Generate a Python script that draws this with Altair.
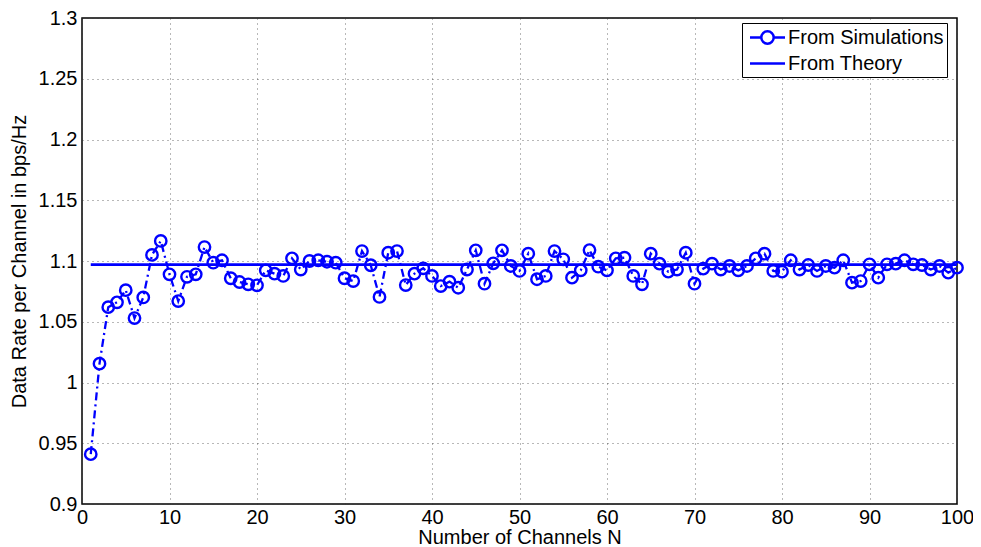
import altair as alt
import pandas as pd

channels = list(range(1, 101))
sim_values = [
    0.941, 1.0155, 1.062, 1.066, 1.076, 1.053, 1.070, 1.105, 1.1165, 1.089,
    1.067, 1.087, 1.089, 1.1115, 1.0986, 1.1006, 1.0858, 1.0827, 1.0808, 1.080,
    1.0923, 1.0896, 1.0877, 1.1022, 1.093, 1.100, 1.1006, 1.0994, 1.0986, 1.0858,
    1.0835, 1.1082, 1.0965, 1.0704, 1.1068, 1.1082, 1.0802, 1.0896, 1.094, 1.0877,
    1.0794, 1.083, 1.078, 1.093, 1.1088, 1.0813, 1.0981, 1.1088, 1.0959, 1.0918,
    1.106, 1.085, 1.0877, 1.1082, 1.1014, 1.0863, 1.0923, 1.109, 1.0953, 1.0923,
    1.1022, 1.1027, 1.0877, 1.0808, 1.106, 1.0978, 1.0912, 1.093, 1.1068, 1.0813,
    1.0937, 1.0978, 1.093, 1.0959, 1.0923, 1.0959, 1.1022, 1.106, 1.0918, 1.0912,
    1.1006, 1.093, 1.0967, 1.0918, 1.0959, 1.0945, 1.1006, 1.0822, 1.0835, 1.0973,
    1.0863, 1.0973, 1.0978, 1.1006, 1.0973, 1.0967, 1.093, 1.0959, 1.0904, 1.0945,
]
theory_value = 1.097
series_names = ["From Simulations", "From Theory"]
x_ticks = [0, 10, 20, 30, 40, 50, 60, 70, 80, 90, 100]
y_ticks = [0.9, 0.95, 1.0, 1.05, 1.1, 1.15, 1.2, 1.25, 1.3]

BLUE = "#0000ff"
FONT = "Liberation Sans"
FS = 20

sim_df = pd.DataFrame({"N": channels, "rate": sim_values, "series": series_names[0]})
theory_df = pd.DataFrame({"N": [channels[0], channels[-1]],
                          "rate": [theory_value, theory_value],
                          "series": series_names[1]})

x_enc = alt.X("N:Q", scale=alt.Scale(domain=[0, 100], nice=False),
              axis=alt.Axis(values=x_ticks, title="Number of Channels N",
                            labelPadding=3, titlePadding=0, labelFlush=False))
y_enc = alt.Y("rate:Q", scale=alt.Scale(domain=[0.9, 1.3], nice=False, zero=False),
              axis=alt.Axis(values=y_ticks, format="~g",
                            title="Data Rate per Channel in bps/Hz",
                            labelPadding=5, titlePadding=9, labelFlush=False))

# legend symbol: line with an open circle (simulations) / plain line (theory)
sim_path = ("M-1.75,0L-0.62,0M0.62,0L1.75,0"
            "M-0.62,0A0.62,0.62 0 1,0 0.62,0A0.62,0.62 0 1,0 -0.62,0Z")
theory_path = "M-1.75,0L1.75,0"
color_enc = alt.Color(
    "series:N",
    scale=alt.Scale(domain=series_names, range=[BLUE, BLUE]),
    legend=alt.Legend(
        title=None, orient="none", legendX=660, legendY=5,
        strokeColor="black", fillColor="white", padding=3, cornerRadius=0,
        labelFont=FONT, labelFontSize=FS, labelColor="black",
        symbolType={"expr": "datum.value == 'From Simulations' ? '" + sim_path
                    + "' : '" + theory_path + "'"},
        symbolSize=400, symbolStrokeWidth=2.5, symbolFillColor="transparent",
        symbolOffset=11, rowPadding=3, labelOffset=9,
    ),
)

sim_line = alt.Chart(sim_df).mark_line(strokeWidth=2.3, strokeDash=[8, 4, 2, 4]).encode(
    x=x_enc, y=y_enc, color=color_enc)
sim_pts = alt.Chart(sim_df).mark_point(shape="circle", filled=False, size=130,
                                       strokeWidth=2.4, opacity=1).encode(
    x="N:Q", y="rate:Q", color=color_enc)
theory = alt.Chart(theory_df).mark_line(strokeWidth=2.7).encode(
    x="N:Q", y="rate:Q", color=color_enc)

chart = alt.layer(sim_line, sim_pts, theory).properties(
    width=875, height=486,
    autosize=alt.AutoSizeParams(type="none"),
    padding={"left": 74, "top": 10, "right": 16, "bottom": 43},
).configure_view(
    stroke="black", strokeWidth=1.5
).configure_axis(
    grid=True, gridColor="#333333", gridDash=[1, 4], gridOpacity=0.7, gridWidth=1,
    domain=False, ticks=False, tickSize=0,
    labelFont=FONT, labelFontSize=FS, labelColor="black",
    titleFont=FONT, titleFontSize=FS, titleFontWeight="normal", titleColor="black",
)

chart.save("out.html", embed_options={"renderer": "svg", "actions": False})
